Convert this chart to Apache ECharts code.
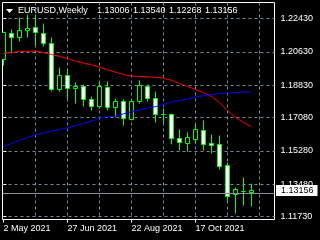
<!DOCTYPE html>
<html><head><meta charset="utf-8">
<script src="https://cdn.jsdelivr.net/npm/echarts@6/dist/echarts.min.js"></script>
<style>html,body{margin:0;padding:0;background:#000;}#c{width:320px;height:240px;}</style>
</head><body><div id="c"></div>
<script>
const symbolName = 'EURUSD,Weekly';
const titleValues = ['1.13006', '1.13540', '1.12268', '1.13156'];
// weekly candles, index 0 = week of 2 May 2021
const opens  = [1.2023,1.2162,1.2142,1.2178,1.2197,1.2162,1.2106,1.1858,1.1934,1.1865,1.1875,1.1803,1.1766,1.1868,1.1762,1.1794,1.1696,1.1793,1.1877,1.1813,1.1726,1.1723,1.1592,1.1568,1.1588,1.1636,1.1566,1.1561,1.1447,1.1290,1.1309,1.13006];
const closes = [1.2166,1.2143,1.2178,1.2190,1.2165,1.2108,1.1858,1.1933,1.1865,1.1878,1.1803,1.1766,1.1875,1.1762,1.1794,1.1700,1.1793,1.1880,1.1811,1.1724,1.1723,1.1592,1.1571,1.1598,1.1642,1.1561,1.1557,1.1444,1.1283,1.1317,1.1307,1.13156];
const lows   = [1.1987,1.2056,1.2118,1.2140,1.2098,1.2090,1.1846,1.1846,1.1810,1.1782,1.1767,1.1748,1.1756,1.1748,1.1707,1.1664,1.1690,1.1782,1.1794,1.1682,1.1682,1.1560,1.1527,1.1522,1.1570,1.1530,1.1513,1.1426,1.1247,1.1188,1.1234,1.12268];
const highs  = [1.2172,1.2182,1.2247,1.2267,1.2262,1.2216,1.2143,1.1977,1.1975,1.1896,1.1889,1.1820,1.1905,1.1901,1.1812,1.1804,1.1806,1.1907,1.1887,1.1846,1.1754,1.1730,1.1642,1.1627,1.1672,1.1692,1.1614,1.1611,1.1464,1.1328,1.1384,1.13540];
const maRed  = [1.2054,1.2059,1.2065,1.2066,1.2066,1.2059,1.2048,1.2038,1.2027,1.2013,1.2003,1.1992,1.1981,1.1966,1.1953,1.1940,1.1932,1.1930,1.1927,1.1926,1.1921,1.1908,1.1892,1.1876,1.1859,1.1843,1.1822,1.1789,1.1746,1.1708,1.1681,1.1659];
const maBlue = [1.1551,1.1568,1.1584,1.1600,1.1613,1.1624,1.1635,1.1643,1.1652,1.1665,1.1676,1.1689,1.1705,1.1712,1.1716,1.1728,1.1738,1.1749,1.1759,1.1767,1.1777,1.1792,1.1800,1.1808,1.1819,1.1827,1.1831,1.1838,1.1840,1.1843,1.1845,1.1847];
const yTicks = [1.2243, 1.2063, 1.1883, 1.1708, 1.1528, 1.1348, 1.1173];
const xTickIndex = [0, 8, 16, 24];
const xTickLabels = ['2 May 2021', '27 Jun 2021', '22 Aug 2021', '17 Oct 2021'];
const xGridIndex = [4, 8, 12, 16, 20, 24, 28, 32];
const lastPrice = 1.13156;

const FONT = 'Liberation Sans';
const candleData = opens.map((o, i) => [i, o, closes[i], lows[i], highs[i]]);

function renderCandle(params, api) {
  const i = api.value(0), o = api.value(1), c = api.value(2), l = api.value(3), h = api.value(4);
  const pt = v => api.coord([i, v]);
  const cx = Math.floor(pt(o)[0]) + 0.5;
  const snap = y => Math.round(y - 0.5) + 0.5;
  const yO = snap(pt(o)[1]), yC = snap(pt(c)[1]), yL = snap(pt(l)[1]), yH = snap(pt(h)[1]);
  const top = Math.min(yO, yC), bot = Math.max(yO, yC);
  const bull = c > o;
  return {
    type: 'group',
    children: [
      { type: 'line', shape: { x1: cx, y1: yH, x2: cx, y2: yL }, style: { stroke: '#00ff00', lineWidth: 1 } },
      { type: 'rect', shape: { x: cx - 2, y: top, width: 4, height: bot - top }, style: { fill: bull ? '#000000' : '#ffffff', stroke: '#00ff00', lineWidth: 1 } }
    ]
  };
}

const chart = echarts.init(document.getElementById('c'), null, { renderer: 'canvas' });
const xMin = -0.125, xMax = 33.875;
const txt = (x, y, s) => ({ type: 'text', silent: true, style: { x: x, y: y, text: s, fill: '#ffffff', font: '9px "' + FONT + '"', verticalAlign: 'middle' } });

chart.setOption({
  backgroundColor: '#000000',
  animation: false,
  grid: { left: 2.5, top: 2.5, right: 45.5, bottom: 20.5, show: true, borderColor: '#ffffff', borderWidth: 1, backgroundColor: 'transparent' },
  xAxis: [
    {
      type: 'value', min: xMin, max: xMax, position: 'bottom',
      axisLine: { show: false },
      axisTick: { show: true, length: 3, customValues: xTickIndex, lineStyle: { color: '#ffffff' } },
      axisLabel: { show: true, customValues: xTickIndex, align: 'left', margin: 5, color: '#ffffff', fontFamily: FONT, fontSize: 9,
        formatter: v => xTickLabels[xTickIndex.indexOf(Math.round(v))] || '' },
      splitLine: { show: false }
    },
    {
      type: 'value', min: xMin, max: xMax, position: 'top',
      axisLine: { show: false }, axisLabel: { show: false },
      axisTick: { show: false, customValues: xGridIndex },
      splitLine: { show: true, lineStyle: { color: '#778899', type: [3, 3], width: 1 } }
    }
  ],
  yAxis: {
    type: 'value', position: 'right', min: 1.115679, max: 1.232946,
    axisLine: { show: false },
    axisTick: { show: true, length: 3, customValues: yTicks, lineStyle: { color: '#ffffff' } },
    axisLabel: { show: true, customValues: yTicks, margin: 6, color: '#ffffff', fontFamily: FONT, fontSize: 9,
      formatter: v => v.toFixed(5) },
    splitLine: { show: true, lineStyle: { color: '#778899', type: [3, 3], width: 1 } }
  },
  graphic: [
    { type: 'polygon', silent: true, shape: { points: [[6, 9], [13, 9], [9.5, 13]] }, style: { fill: '#ffffff' } },
    txt(18, 11, symbolName),
    txt(97, 11, titleValues[0]),
    txt(133, 11, titleValues[1]),
    txt(169, 11, titleValues[2]),
    txt(205, 11, titleValues[3])
  ],
  series: [
    {
      type: 'custom', renderItem: renderCandle, data: candleData, clip: true,
      encode: { x: 0, y: [1, 2, 3, 4] }, z: 3
    },
    {
      type: 'line', data: maRed.map((v, i) => [i, v]), symbol: 'none', z: 4,
      lineStyle: { color: '#ff0000', width: 1 }, itemStyle: { color: '#ff0000' }, clip: true
    },
    {
      type: 'line', data: maBlue.map((v, i) => [i, v]), symbol: 'none', z: 4,
      lineStyle: { color: '#0000ff', width: 1 }, itemStyle: { color: '#0000ff' }, clip: true,
      markLine: {
        silent: true, symbol: 'none', animation: false, z: 20,
        lineStyle: { color: '#8a9099', type: 'solid', width: 1 },
        data: [{ yAxis: lastPrice }],
        label: { show: true, position: 'end', distance: 1.5, offset: [0, -2.5], formatter: lastPrice.toFixed(5), verticalAlign: 'middle',
          backgroundColor: '#ffffff', color: '#000000', fontFamily: FONT, fontSize: 9, lineHeight: 11, padding: [0, 4, 0, 5] }
      }
    }
  ]
});
</script>
</body></html>
